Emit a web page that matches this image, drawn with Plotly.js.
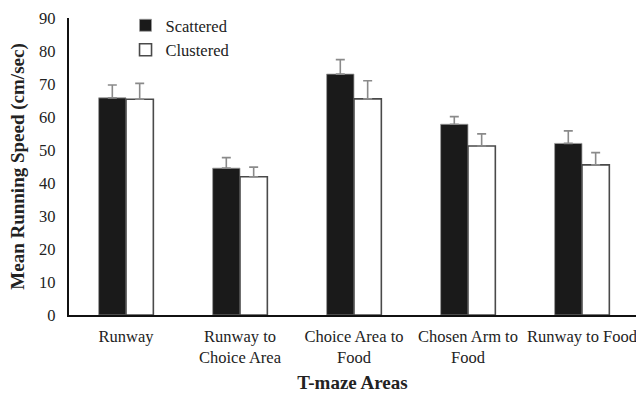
<!DOCTYPE html>
<html>
<head>
<meta charset="utf-8">
<script src="https://cdn.plot.ly/plotly-3.0.1.min.js"></script>
<style>
  html, body { margin: 0; padding: 0; background: #fff; }
  #chart { width: 636px; height: 393px; }
</style>
</head>
<body>
<div id="chart"></div>
<script>
// T-maze running speed by area, two feeding conditions
const areas = ['Runway', 'Runway to<br>Choice Area', 'Choice Area to<br>Food', 'Chosen Arm to<br>Food', 'Runway to Food'];
const scatteredMean = [65.8, 44.5, 73.0, 57.8, 52.0];
const scatteredErr  = [3.9, 3.2, 4.4, 2.3, 3.8];
const clusteredMean = [65.4, 41.9, 65.5, 51.2, 45.5];
const clusteredErr  = [4.8, 2.9, 5.5, 3.7, 3.7];
const yTicks = [0, 10, 20, 30, 40, 50, 60, 70, 80, 90];

const serif = 'Liberation Serif, Times New Roman, serif';
const ink = '#222';
const errStyle = { type: 'data', symmetric: false, color: '#8a8a8a', thickness: 1.6, width: 4.5 };

const traces = [
  {
    type: 'bar', name: 'Scattered', x: areas, y: scatteredMean,
    marker: { color: '#1a1a1a', line: { color: '#9a9a9a', width: 0.8 } },
    error_y: Object.assign({ array: scatteredErr, arrayminus: scatteredErr.map(() => 0) }, errStyle)
  },
  {
    type: 'bar', name: 'Clustered', x: areas, y: clusteredMean,
    marker: { color: '#ffffff', line: { color: '#4a4a4a', width: 1.6 } },
    error_y: Object.assign({ array: clusteredErr, arrayminus: clusteredErr.map(() => 0) }, errStyle)
  }
];

const layout = {
  width: 636, height: 393,
  margin: { l: 69, r: 0, t: 18, b: 78 },
  paper_bgcolor: '#fff', plot_bgcolor: '#fff',
  font: { family: serif, size: 16.5, color: ink },
  barmode: 'group', bargap: 0.52, bargroupgap: 0,
  showlegend: true,
  legend: {
    x: 0.0997, y: 1.0335, xanchor: 'left', yanchor: 'top',
    bgcolor: 'rgba(0,0,0,0)', itemwidth: 30, tracegroupgap: 0,
    font: { family: serif, size: 16.5, color: ink }
  },
  xaxis: {
    range: [-0.5, 4.474],
    showline: true, linecolor: '#111', linewidth: 2.2,
    ticks: '', showgrid: false, zeroline: false,
    ticklabelstandoff: 5,
    tickfont: { family: serif, size: 16.5, color: ink },
    title: { text: '<b>T-maze Areas</b>', font: { family: serif, size: 19, color: ink }, standoff: 10 },
    automargin: false
  },
  yaxis: {
    range: [0, 90], tickvals: yTicks, ticktext: yTicks.map(String),
    showline: true, linecolor: '#111', linewidth: 2.2,
    ticks: '', showgrid: false, zeroline: false,
    ticklabelstandoff: 8,
    tickfont: { family: serif, size: 16.5, color: ink },
    title: { text: '<b>Mean Running Speed (cm/sec)</b>', font: { family: serif, size: 19, color: ink }, standoff: 9 },
    automargin: false
  }
};

Plotly.newPlot('chart', traces, layout, { displayModeBar: false, staticPlot: true });
</script>
</body>
</html>
